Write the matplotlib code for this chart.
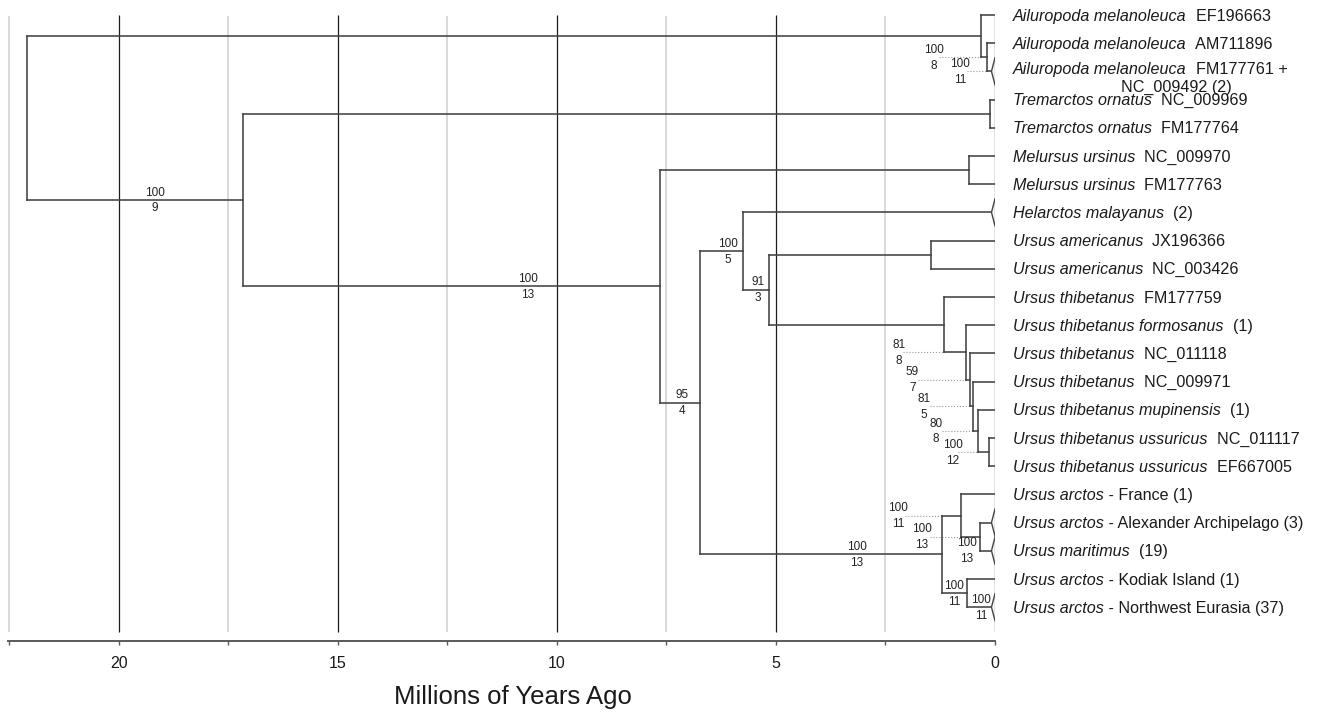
import matplotlib
matplotlib.use('Agg')
import matplotlib.pyplot as plt
from matplotlib.ticker import MultipleLocator, FormatStrFormatter

plt.rcParams['font.family'] = ['Liberation Sans', 'DejaVu Sans']

# tips, top to bottom (italic taxon + plain tag)
TIP_TAXA = [
    'Ailuropoda melanoleuca', 'Ailuropoda melanoleuca', 'Ailuropoda melanoleuca',
    'Tremarctos ornatus', 'Tremarctos ornatus',
    'Melursus ursinus', 'Melursus ursinus',
    'Helarctos malayanus',
    'Ursus americanus', 'Ursus americanus',
    'Ursus thibetanus', 'Ursus thibetanus formosanus', 'Ursus thibetanus',
    'Ursus thibetanus', 'Ursus thibetanus mupinensis',
    'Ursus thibetanus ussuricus', 'Ursus thibetanus ussuricus',
    'Ursus arctos', 'Ursus arctos', 'Ursus maritimus', 'Ursus arctos', 'Ursus arctos',
]
TIP_TAGS = [
    '  EF196663', '  AM711896', '  FM177761 +\nNC_009492 (2)',
    '  NC_009969', '  FM177764',
    '  NC_009970', '  FM177763',
    '  (2)',
    '  JX196366', '  NC_003426',
    '  FM177759', '  (1)', '  NC_011118',
    '  NC_009971', '  (1)',
    '  NC_011117', '  EF667005',
    ' - France (1)', ' - Alexander Archipelago (3)', '  (19)',
    ' - Kodiak Island (1)', ' - Northwest Eurasia (37)',
]
COLLAPSED = [2, 7, 18, 19, 21]

# internal nodes: id, age (Myr), children ('tN' = tip N)
NODE_IDS = ['root', 'ail', 'ail2', 'bears', 'trem', 'ursinae', 'mel', 'ursini',
            'helam', 'amth', 'amer', 'thib', 'thib2', 'thib3', 'thib4', 'thib5',
            'thib6', 'arctos', 'arc1', 'arc2', 'arc3']
NODE_AGES = [22.1, 0.32, 0.18, 17.17, 0.12, 7.65, 0.59, 6.74,
             5.75, 5.16, 1.46, 1.16, 0.66, 0.57, 0.50, 0.39,
             0.14, 1.21, 0.78, 0.34, 0.64]
NODE_KIDS = [('ail', 'bears'), ('t0', 'ail2'), ('t1', 't2'), ('trem', 'ursinae'),
             ('t3', 't4'), ('mel', 'ursini'), ('t5', 't6'), ('helam', 'arctos'),
             ('t7', 'amth'), ('amer', 'thib'), ('t8', 't9'), ('t10', 'thib2'),
             ('t11', 'thib3'), ('t12', 'thib4'), ('t13', 'thib5'), ('t14', 'thib6'),
             ('t15', 't16'), ('arc1', 'arc3'), ('t17', 'arc2'), ('t18', 't19'),
             ('t20', 't21')]

# branch support: bootstrap / second value
SUPPORT_AT = ['bears', 'ursinae', 'ursini', 'helam', 'amth', 'arctos',
              'ail2', 't2', 'thib2', 'thib3', 'thib4', 'thib5', 'thib6',
              'arc1', 'arc2', 't19', 'arc3', 't21']
SUPPORT_BOOT = ['100', '100', '95', '100', '91', '100',
                '100', '100', '81', '59', '81', '80', '100',
                '100', '100', '100', '100', '100']
SUPPORT_N = ['9', '13', '4', '5', '3', '13',
             '8', '11', '8', '7', '5', '8', '12',
             '11', '13', '13', '11', '11']

# label placement (Myr) and start of dotted leader (None = no leader)
LABEL_X = [19.18, 10.66, 7.15, 6.10, 5.41, 3.15,
           1.39, 0.80, 2.19, 1.89, 1.62, 1.35, 0.96,
           2.21, 1.67, 0.64, 0.94, 0.32]
LEADER_FROM = [None, None, None, None, None, None,
               1.28, 0.64, 2.10, 1.76, 1.48, 1.21, 0.84,
               2.05, 1.48, None, None, None]

TREE_C = '#424242'
APEX = 0.08      # collapsed-clade triangle tip
HALF = 0.48      # triangle half height (rows)

fig = plt.figure(figsize=(13.23, 7.12), dpi=100)
ax = fig.add_axes([8 / 1323, 71 / 712, 987 / 1323, 641 / 712])
ax.set_xlim(22.53, 0)
ax.set_ylim(22.2, -0.53)

# grid
for v in [22.5, 17.5, 12.5, 7.5, 2.5]:
    ax.vlines(v, 0.03, 21.88, color='#d6d6d6', lw=1.3, zorder=0)
for v in [20, 15, 10, 5, 0]:
    ax.vlines(v, 0.0, 21.88, color='#1e1e1e', lw=0.9, zorder=1)

# layout
age = dict(zip(NODE_IDS, NODE_AGES))
kids = dict(zip(NODE_IDS, NODE_KIDS))
parent = {c: p for p, cs in kids.items() for c in cs}
ypos = {}


def is_tip(n):
    return n[0] == 't' and n[1:].isdigit()


def place(n):
    if is_tip(n):
        ypos[n] = int(n[1:])
    else:
        ypos[n] = sum(place(c) for c in kids[n]) / 2
    return ypos[n]


place('root')


def end_x(n):
    if is_tip(n):
        return APEX if int(n[1:]) in COLLAPSED else 0
    return age[n]


for n in NODE_IDS:
    a, b = kids[n]
    ax.plot([age[n], age[n]], [ypos[a], ypos[b]], color=TREE_C, lw=1.15, zorder=3)
    for c in (a, b):
        ax.plot([age[n], end_x(c)], [ypos[c], ypos[c]], color=TREE_C, lw=1.15, zorder=3)

for i in COLLAPSED:
    ax.plot([0, APEX, 0], [i - HALF, i, i + HALF], color=TREE_C, lw=1.0, zorder=3)

# support values
for n, boot, cnt, lx, lf in zip(SUPPORT_AT, SUPPORT_BOOT, SUPPORT_N, LABEL_X, LEADER_FROM):
    y = ypos[n]
    ax.annotate(boot, xy=(lx, y), xytext=(0, 1.0), textcoords='offset points',
                ha='center', va='bottom', fontsize=8.5, color='#222222')
    ax.annotate(cnt, xy=(lx, y), xytext=(0, -1.8), textcoords='offset points',
                ha='center', va='top', fontsize=8.5, color='#222222')
    if lf is not None:
        ax.plot([lf, age[parent[n]]], [y, y], color='#9a9a9a', lw=0.8, ls=':', zorder=2)

# tip labels
for i, (taxon, tag) in enumerate(zip(TIP_TAXA, TIP_TAGS)):
    lines = tag.split('\n')
    dy = 1.0 if len(lines) > 1 else -0.8
    t = ax.annotate(taxon, xy=(0, i), xytext=(13, dy), textcoords='offset points',
                    ha='left', va='center', fontsize=11.6, style='italic',
                    color='#1a1a1a', annotation_clip=False)
    ax.annotate(lines[0], xy=(1, 0), xycoords=t, ha='left', va='bottom',
                fontsize=11.6, color='#1a1a1a', annotation_clip=False)
    if len(lines) > 1:
        ax.annotate(lines[1], xy=(0, 0), xycoords=t, xytext=(78, -12.5),
                    textcoords='offset points', ha='left', va='bottom',
                    fontsize=11.6, color='#1a1a1a', annotation_clip=False)

# axis
for s in ['top', 'left', 'right']:
    ax.spines[s].set_visible(False)
ax.spines['bottom'].set_color('#5a5a5a')
ax.spines['bottom'].set_linewidth(1.4)
ax.set_yticks([])
ax.xaxis.set_major_locator(MultipleLocator(5))
ax.xaxis.set_minor_locator(MultipleLocator(2.5))
ax.xaxis.set_major_formatter(FormatStrFormatter('%d'))
ax.tick_params(axis='x', which='both', direction='out', length=3, width=1,
               color='#5a5a5a', labelsize=11.5, pad=7.5, labelcolor='#1a1a1a')
ax.set_xlabel('Millions of Years Ago', fontsize=18.5, color='#1a1a1a')
ax.xaxis.set_label_coords(0.512, -0.087)
ax.xaxis.label.set_va('center')

fig.savefig('out.png', dpi=100, facecolor='white')
